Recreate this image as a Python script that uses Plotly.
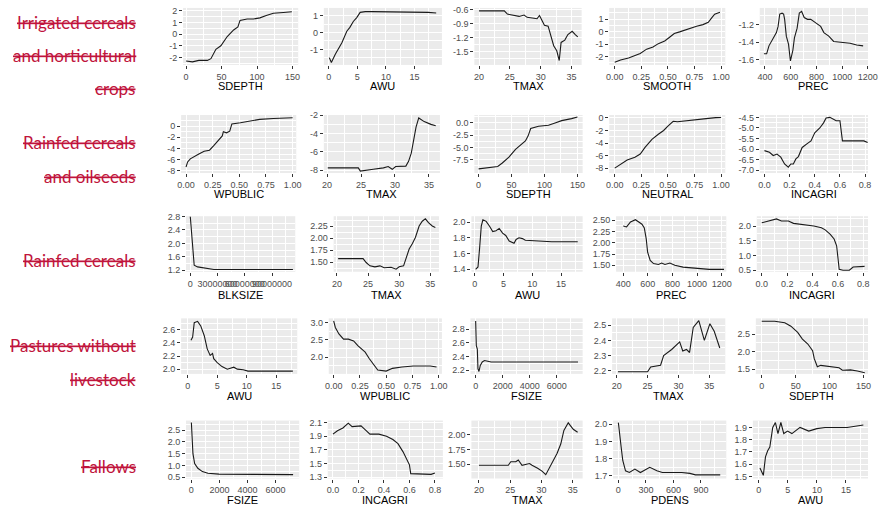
import plotly.graph_objects as go

# ---------------- DATA ----------------
row_labels = [["Irrigated cereals", "and horticultural", "crops"],
              ["Rainfed cereals", "and oilseeds"],
              ["Rainfed cereals"],
              ["Pastures without", "livestock"],
              ["Fallows"]]

# Row 1: Irrigated cereals and horticultural crops
irr_sdepth_x = [0, 9, 18, 30, 35, 42, 49, 58, 67, 73, 76, 86, 95, 104, 113, 123, 137, 149]
irr_sdepth_y = [-2.3, -2.38, -2.25, -2.25, -2.1, -1.3, -1.0, -0.2, 0.36, 0.63, 1.18, 1.3, 1.3, 1.4, 1.6, 1.8, 1.86, 1.92]
irr_awu_x = [0.1, 0.46, 1.15, 2.3, 3.16, 3.7, 4.3, 4.9, 5.5, 6.4, 7.5, 10.4, 13.3, 17.4, 18.8]
irr_awu_y = [-1.49, -1.78, -1.29, -0.61, 0.07, 0.3, 0.65, 0.88, 1.19, 1.23, 1.23, 1.23, 1.23, 1.19, 1.15]
irr_tmax_x = [20, 24.1, 24.6, 25.4, 26.5, 27.3, 27.8, 28.9, 29.4, 29.8, 30.2, 30.6, 31.2, 31.6, 32.1, 32.6, 33.0, 33.3, 33.9, 34.4, 35.1, 35.6, 36.0]
irr_tmax_y = [-0.62, -0.62, -0.69, -0.71, -0.74, -0.71, -0.76, -0.78, -0.79, -0.72, -0.81, -0.93, -0.95, -1.16, -1.37, -1.48, -1.69, -1.30, -1.25, -1.13, -1.06, -1.13, -1.18]
irr_smooth_x = [0, 0.055, 0.13, 0.19, 0.24, 0.30, 0.36, 0.41, 0.47, 0.51, 0.56, 0.61, 0.65, 0.71, 0.77, 0.83, 0.88, 0.91, 0.94, 0.99]
irr_smooth_y = [-2.45, -2.26, -2.1, -1.92, -1.74, -1.40, -1.22, -0.96, -0.75, -0.49, -0.15, -0.02, 0.09, 0.30, 0.43, 0.56, 0.74, 1.08, 1.39, 1.55]
irr_prec_x = [392, 413, 431, 451, 472, 489, 502, 515, 533, 545, 553, 566, 583, 598, 617, 629, 650, 667, 685, 705, 731, 756, 795, 833, 858, 896, 934, 985, 1062, 1113, 1163]
irr_prec_y = [-1.53, -1.53, -1.44, -1.39, -1.33, -1.29, -1.22, -1.08, -1.07, -1.08, -1.14, -1.33, -1.42, -1.61, -1.49, -1.35, -1.24, -1.07, -1.05, -1.12, -1.14, -1.14, -1.18, -1.22, -1.29, -1.33, -1.39, -1.40, -1.41, -1.43, -1.44]

# Row 2: Rainfed cereals and oilseeds
rco_wpublic_x = [0, 0.015, 0.04, 0.077, 0.12, 0.17, 0.22, 0.26, 0.31, 0.34, 0.35, 0.38, 0.41, 0.43, 0.51, 0.6, 0.69, 0.82, 0.91, 1.0]
rco_wpublic_y = [-7.3, -6.4, -5.85, -5.4, -4.98, -4.5, -4.3, -3.5, -2.5, -1.76, -1.0, -1.2, -0.9, 0.4, 0.6, 0.9, 1.2, 1.35, 1.4, 1.5]
rco_tmax_x = [20.1, 24.6, 24.9, 25.6, 26.8, 28.3, 29.0, 29.6, 30.1, 31.6, 32.0, 32.4, 32.7, 33.1, 33.5, 34.3, 35.3, 36.0]
rco_tmax_y = [-7.74, -7.74, -8.1, -8.0, -7.9, -7.74, -7.6, -7.9, -7.6, -7.55, -7.03, -6.14, -4.7, -3.3, -2.3, -2.7, -3.0, -3.15]
rco_sdepth_x = [0, 11.5, 29, 36, 46, 56, 64, 71, 75, 79, 91, 106, 116, 126, 141, 150]
rco_sdepth_y = [-9.4, -9.2, -8.9, -8.2, -7.0, -5.4, -4.4, -3.7, -2.7, -1.15, -0.67, -0.47, 0, 0.47, 0.87, 1.2]
rco_neutral_x = [0, 0.055, 0.117, 0.19, 0.24, 0.285, 0.35, 0.41, 0.46, 0.50, 0.55, 0.59, 0.67, 0.75, 0.86, 0.95, 1.0]
rco_neutral_y = [-8.0, -7.4, -6.7, -6.27, -5.75, -4.7, -3.4, -2.6, -2.0, -1.3, -0.52, -0.6, -0.42, -0.26, -0.1, 0.05, 0.08]
rco_incagri_x = [0, 0.04, 0.07, 0.1, 0.13, 0.16, 0.19, 0.21, 0.23, 0.25, 0.27, 0.3, 0.34, 0.37, 0.4, 0.44, 0.47, 0.49, 0.52, 0.57, 0.6, 0.62, 0.66, 0.79, 0.82]
rco_incagri_y = [-6.07, -6.15, -6.3, -6.23, -6.38, -6.7, -6.85, -6.7, -6.7, -6.46, -6.35, -5.92, -5.74, -5.61, -5.23, -5.0, -4.76, -4.53, -4.5, -4.66, -4.66, -5.61, -5.61, -5.61, -5.69]

# Row 3: Rainfed cereals
rc_blksize_x = [0, 0.8e6, 1.8e6, 2.9e6, 4.3e6, 8e6, 1.7e7, 2.6e7, 4.8e7, 8.4e7, 1.13e8]
rc_blksize_y = [2.8, 2.52, 2.13, 1.73, 1.35, 1.30, 1.25, 1.22, 1.22, 1.22, 1.22]
rc_tmax_x = [20.2, 24.2, 24.7, 25.3, 26.1, 26.9, 27.6, 28.7, 29.5, 30.0, 30.7, 31.1, 31.6, 32.1, 32.6, 33.2, 33.7, 34.2, 34.7, 35.3, 35.8]
rc_tmax_y = [1.57, 1.57, 1.49, 1.42, 1.40, 1.42, 1.38, 1.39, 1.35, 1.40, 1.42, 1.60, 1.77, 1.88, 2.01, 2.25, 2.35, 2.40, 2.32, 2.25, 2.22]
rc_awu_x = [0.17, 0.58, 0.85, 1.15, 1.43, 2.0, 2.56, 3.14, 3.7, 4.27, 4.85, 5.4, 6.0, 6.84, 7.2, 7.7, 8.3, 8.8, 11.1, 13.4, 17.9]
rc_awu_y = [1.40, 1.43, 1.66, 1.95, 2.03, 2.01, 1.95, 1.88, 1.89, 1.92, 1.86, 1.83, 1.76, 1.73, 1.78, 1.80, 1.79, 1.77, 1.76, 1.75, 1.75]
rc_prec_x = [400, 427, 459, 499, 526, 552, 571, 587, 598, 619, 646, 686, 712, 739, 779, 819, 886, 992, 1072, 1099, 1219]
rc_prec_y = [2.37, 2.35, 2.46, 2.51, 2.46, 2.41, 2.33, 2.08, 1.79, 1.61, 1.54, 1.52, 1.55, 1.52, 1.55, 1.50, 1.46, 1.44, 1.43, 1.41, 1.41]
rc_incagri_x = [0, 0.05, 0.09, 0.116, 0.155, 0.21, 0.25, 0.31, 0.36, 0.41, 0.47, 0.5, 0.54, 0.57, 0.59, 0.6, 0.61, 0.64, 0.69, 0.72, 0.8, 0.81]
rc_incagri_y = [2.11, 2.17, 2.22, 2.24, 2.17, 2.17, 2.09, 2.06, 2.02, 2.0, 1.94, 1.87, 1.72, 1.56, 1.33, 0.89, 0.53, 0.5, 0.5, 0.61, 0.61, 0.63]

# Row 4: Pastures without livestock
pw_awu_x = [0.55, 0.83, 1.1, 1.67, 2.2, 2.8, 3.3, 3.8, 4.2, 4.4, 5.0, 5.8, 6.7, 7.2, 7.8, 8.4, 9.4, 10.2, 13.3, 17.8]
pw_awu_y = [2.44, 2.49, 2.71, 2.73, 2.66, 2.51, 2.31, 2.21, 2.24, 2.16, 2.10, 2.04, 2.0, 2.01, 2.03, 2.0, 1.99, 1.97, 1.97, 1.97]
pw_wpublic_x = [0, 0.016, 0.05, 0.094, 0.14, 0.19, 0.23, 0.30, 0.34, 0.39, 0.42, 0.5, 0.56, 0.65, 0.76, 0.92, 0.98]
pw_wpublic_y = [3.05, 2.86, 2.67, 2.52, 2.52, 2.47, 2.33, 2.14, 1.95, 1.76, 1.62, 1.59, 1.67, 1.71, 1.74, 1.74, 1.71]
pw_fsize_x = [0, 48, 124, 170, 244, 342, 488, 655, 900, 1140, 4415, 7563]
pw_fsize_y = [2.92, 2.56, 2.51, 2.22, 2.18, 2.27, 2.32, 2.34, 2.33, 2.32, 2.32, 2.32]
pw_tmax_x = [20.2, 25, 25.5, 27.1, 27.6, 28.9, 30.2, 30.7, 31.3, 31.8, 32.4, 33.3, 34.2, 35.1, 35.8, 36.7]
pw_tmax_y = [2.193, 2.193, 2.225, 2.236, 2.30, 2.34, 2.39, 2.33, 2.34, 2.32, 2.485, 2.53, 2.40, 2.51, 2.46, 2.35]
pw_sdepth_x = [0, 19, 34, 43, 53, 60, 68, 75, 77.5, 82, 87, 94, 104, 114, 119, 131, 141, 147, 152]
pw_sdepth_y = [2.87, 2.87, 2.83, 2.73, 2.55, 2.36, 2.22, 2.03, 1.80, 1.57, 1.61, 1.59, 1.57, 1.54, 1.47, 1.48, 1.45, 1.42, 1.40]

# Row 5: Fallows
fa_fsize_x = [0, 40, 112, 234, 463, 785, 1178, 1963, 4320, 7250]
fa_fsize_y = [2.82, 2.06, 1.5, 1.08, 0.88, 0.74, 0.67, 0.63, 0.61, 0.61]
fa_incagri_x = [0, 0.035, 0.078, 0.12, 0.15, 0.185, 0.22, 0.25, 0.29, 0.36, 0.42, 0.47, 0.51, 0.55, 0.58, 0.6, 0.61, 0.71, 0.77, 0.8]
fa_incagri_y = [1.93, 1.98, 2.02, 2.09, 2.04, 2.05, 2.05, 2.0, 1.93, 1.93, 1.9, 1.85, 1.79, 1.67, 1.55, 1.48, 1.35, 1.35, 1.34, 1.36]
fa_tmax_x = [20, 24.7, 25.1, 25.9, 26.3, 26.9, 28.1, 28.5, 29.4, 30.1, 30.7, 31.6, 32.5, 33.1, 33.6, 34.3, 35.1, 35.8]
fa_tmax_y = [1.48, 1.48, 1.54, 1.54, 1.57, 1.48, 1.51, 1.48, 1.43, 1.38, 1.32, 1.51, 1.68, 1.84, 2.07, 2.2, 2.09, 2.04]
fa_pdens_x = [0, 18, 30, 48, 78, 120, 180, 240, 342, 420, 479, 690, 780, 840, 1110]
fa_pdens_y = [2.01, 1.94, 1.87, 1.79, 1.73, 1.72, 1.74, 1.72, 1.75, 1.73, 1.72, 1.72, 1.715, 1.706, 1.706]
fa_awu_x = [0.2, 0.78, 1.15, 1.53, 1.9, 2.4, 2.86, 3.3, 3.8, 4.3, 4.95, 5.7, 7.1, 8.6, 10, 11.4, 15.2, 17.1, 18.0]
fa_awu_y = [1.57, 1.51, 1.66, 1.71, 1.74, 1.9, 1.94, 1.85, 1.94, 1.85, 1.87, 1.85, 1.9, 1.87, 1.89, 1.9, 1.9, 1.91, 1.92]

# Tick labels
t_sdepth = ["0", "50", "100", "150"]
t_awu = ["0", "5", "10", "15"]
t_tmax = ["20", "25", "30", "35"]
t_frac = ["0.00", "0.25", "0.50", "0.75", "1.00"]
t_prec = ["400", "600", "800", "1000", "1200"]
t_incagri = ["0.0", "0.2", "0.4", "0.6", "0.8"]
t_blksize = ["0", "30000000", "60000000", "90000000"]
t_fsize = ["0", "2000", "4000", "6000"]
t_pdens = ["0", "300", "600", "900"]

panels = [
    ("SDEPTH", irr_sdepth_x, irr_sdepth_y, t_sdepth, ["-2", "-1", "0", "1", "2"]),
    ("AWU", irr_awu_x, irr_awu_y, t_awu, ["-1", "0", "1"]),
    ("TMAX", irr_tmax_x, irr_tmax_y, t_tmax, ["-1.5", "-1.2", "-0.9", "-0.6"]),
    ("SMOOTH", irr_smooth_x, irr_smooth_y, t_frac, ["-2", "-1", "0", "1"]),
    ("PREC", irr_prec_x, irr_prec_y, t_prec, ["-1.6", "-1.4", "-1.2"]),
    ("WPUBLIC", rco_wpublic_x, rco_wpublic_y, t_frac, ["-8", "-6", "-4", "-2", "0"]),
    ("TMAX", rco_tmax_x, rco_tmax_y, t_tmax, ["-8", "-6", "-4", "-2"]),
    ("SDEPTH", rco_sdepth_x, rco_sdepth_y, t_sdepth, ["-7.5", "-5.0", "-2.5", "0.0"]),
    ("NEUTRAL", rco_neutral_x, rco_neutral_y, t_frac, ["-8", "-6", "-4", "-2", "0"]),
    ("INCAGRI", rco_incagri_x, rco_incagri_y, t_incagri, ["-7.0", "-6.5", "-6.0", "-5.5", "-5.0", "-4.5"]),
    ("BLKSIZE", rc_blksize_x, rc_blksize_y, t_blksize, ["1.2", "1.6", "2.0", "2.4", "2.8"]),
    ("TMAX", rc_tmax_x, rc_tmax_y, t_tmax, ["1.50", "1.75", "2.00", "2.25"]),
    ("AWU", rc_awu_x, rc_awu_y, t_awu, ["1.4", "1.6", "1.8", "2.0"]),
    ("PREC", rc_prec_x, rc_prec_y, t_prec, ["1.50", "1.75", "2.00", "2.25", "2.50"]),
    ("INCAGRI", rc_incagri_x, rc_incagri_y, t_incagri, ["0.5", "1.0", "1.5", "2.0"]),
    ("AWU", pw_awu_x, pw_awu_y, t_awu, ["2.0", "2.2", "2.4", "2.6"]),
    ("WPUBLIC", pw_wpublic_x, pw_wpublic_y, t_frac, ["2.0", "2.5", "3.0"]),
    ("FSIZE", pw_fsize_x, pw_fsize_y, t_fsize, ["2.2", "2.4", "2.6", "2.8"]),
    ("TMAX", pw_tmax_x, pw_tmax_y, t_tmax, ["2.2", "2.3", "2.4", "2.5"]),
    ("SDEPTH", pw_sdepth_x, pw_sdepth_y, t_sdepth, ["1.5", "2.0", "2.5"]),
    ("FSIZE", fa_fsize_x, fa_fsize_y, t_fsize, ["0.5", "1.0", "1.5", "2.0", "2.5"]),
    ("INCAGRI", fa_incagri_x, fa_incagri_y, t_incagri, ["1.3", "1.5", "1.7", "1.9", "2.1"]),
    ("TMAX", fa_tmax_x, fa_tmax_y, t_tmax, ["1.50", "1.75", "2.00"]),
    ("PDENS", fa_pdens_x, fa_pdens_y, t_pdens, ["1.7", "1.8", "1.9", "2.0"]),
    ("AWU", fa_awu_x, fa_awu_y, t_awu, ["1.5", "1.6", "1.7", "1.8", "1.9"]),
]

# ---------------- LAYOUT (pixels) ----------------
W, H = 878, 511
row_y = [(3, 61), (112, 171), (215, 271.5), (319, 375.5), (423, 482)]
title_y = [82.5, 192.5, 295, 398.5, 503.5]
label_y = [[18.3, 51.7, 85], [140, 174.3], [260], [346.7, 381.7], [470]]
col_x = [
    [(182, 299), (325, 445), (478, 587), (615, 733), (768, 878)],
    [(180, 297), (325, 443), (478, 588), (615, 733), (768, 878)],
    [(185, 296), (335, 442), (475, 588), (622, 734), (765, 878)],
    [(180, 298), (330, 445), (474, 588), (618, 733), (764, 878)],
    [(185, 300), (329, 446), (475, 588), (619, 734), (761, 878)],
]
x_ranges = [
    [(-4.2, 158), (-0.86, 19.8), (19.25, 36.63), (-0.052, 1.04), (359.5, 1201)],
    [(-0.046, 1.034), (19.52, 36.62), (-6.4, 157.8), (-0.052, 1.04), (-0.037, 0.823)],
    [(-4.66e6, 1.156e8), (19.48, 36.38), (-0.56, 18.75), (341.6, 1237.6), (-0.039, 0.837)],
    [(-1.12, 18.55), (-0.047, 1.031), (-385, 7905), (19.25, 37.6), (-8.7, 156.7)],
    [(-379, 7686), (-0.041, 0.8625), (18.8, 36.6), (-57, 1176), (-1.02, 18.8)],
]
y_ranges = [
    [(-2.64, 2.25), (-1.92, 1.45), (-1.784, -0.558), (-2.66, 1.89), (-1.656, -1.011)],
    [(-8.37, 1.98), (-8.3, -1.98), (-10.24, 1.61), (-8.78, 0.47), (-7.125, -4.39)],
    [(1.156, 2.81), (1.298, 2.454), (1.369, 2.075), (1.359, 2.587), (0.45, 2.333)],
    [(1.928, 2.775), (1.509, 3.124), (2.145, 2.958), (2.179, 2.545), (1.366, 2.953)],
    [(0.446, 2.904), (1.279, 2.129), (1.255, 2.239), (1.685, 2.022), (1.484, 1.956)],
]

TICK_FONT = dict(family="Liberation Sans, Arial, sans-serif", size=9, color="#4D4D4D")
TITLE_FONT = dict(family="Liberation Sans, Arial, sans-serif", size=11, color="#000000")
LABEL_FONT = dict(family="Lato, Carlito, sans-serif", size=17, color="#C0143C", lineposition="through")


def minor_vals(vals):
    d = vals[1] - vals[0]
    out = [vals[0] - d / 2]
    out += [(a + b) / 2 for a, b in zip(vals[:-1], vals[1:])]
    out.append(vals[-1] + d / 2)
    return out


def axis_common(ticktext):
    vals = [float(t) for t in ticktext]
    return dict(
        tickmode="array", tickvals=vals, ticktext=ticktext,
        ticks="outside", ticklen=3, tickwidth=1, tickcolor="#333333",
        tickfont=TICK_FONT, tickangle=0, ticklabeloverflow="allow",
        showgrid=True, gridcolor="#FFFFFF", gridwidth=1.1,
        zeroline=False, showline=False, fixedrange=True,
        minor=dict(tickmode="array", tickvals=minor_vals(vals), showgrid=True,
                   gridcolor="#FFFFFF", gridwidth=0.5, ticks=""),
    )


fig = go.Figure()
layout = {}
annotations = []

for i, (title, xs, ys, xt, yt) in enumerate(panels):
    r, c = divmod(i, 5)
    n = i + 1
    xa = "x" if n == 1 else f"x{n}"
    ya = "y" if n == 1 else f"y{n}"
    fig.add_trace(go.Scatter(x=xs, y=ys, mode="lines", xaxis=xa, yaxis=ya,
                             line=dict(color="#1A1A1A", width=1.1),
                             showlegend=False, hoverinfo="skip"))
    x0, x1 = col_x[r][c]
    y0, y1 = row_y[r]
    xd = axis_common(xt)
    xd.update(domain=[x0 / W, x1 / W], anchor=ya, range=list(x_ranges[r][c]))
    yd = axis_common(yt)
    yd.update(domain=[1 - y1 / H, 1 - y0 / H], anchor=xa, range=list(y_ranges[r][c]))
    layout["xaxis" if n == 1 else f"xaxis{n}"] = xd
    layout["yaxis" if n == 1 else f"yaxis{n}"] = yd
    annotations.append(dict(text=title, xref="paper", yref="paper",
                            x=(x0 + x1) / 2 / W, y=1 - title_y[r] / H,
                            xanchor="center", yanchor="middle", showarrow=False,
                            font=TITLE_FONT))

for r, lines in enumerate(row_labels):
    for line, yc in zip(lines, label_y[r]):
        annotations.append(dict(text=line, xref="paper", yref="paper",
                                x=136 / W, y=1 - yc / H, xanchor="right", yanchor="middle",
                                showarrow=False, font=LABEL_FONT))

fig.update_layout(
    width=W, height=H, margin=dict(l=0, r=0, t=0, b=0),
    paper_bgcolor="#FFFFFF", plot_bgcolor="#EBEBEB",
    hovermode=False, showlegend=False, annotations=annotations, **layout,
)

fig.write_html("out.html")
